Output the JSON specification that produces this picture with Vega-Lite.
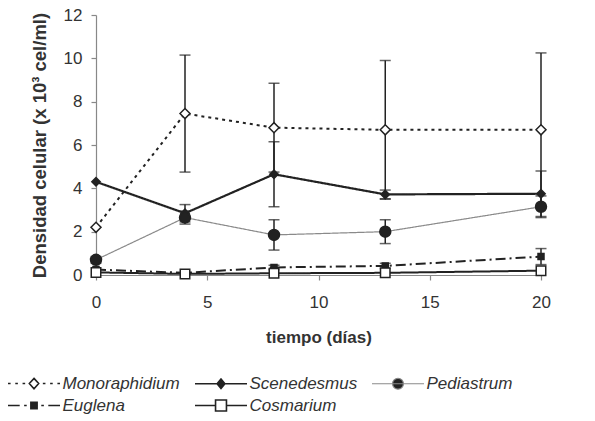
{
  "$schema": "https://vega.github.io/schema/vega-lite/v6.json",
  "autosize": "none",
  "width": 445,
  "height": 260,
  "padding": {"left": 96, "top": 15, "right": 54, "bottom": 146},
  "background": "white",
  "data": {"values": [
    {"t": 0, "species": "Monoraphidium", "value": 2.2, "err": 0},
    {"t": 4, "species": "Monoraphidium", "value": 7.45, "err": 2.7},
    {"t": 8, "species": "Monoraphidium", "value": 6.8, "err": 2.05},
    {"t": 13, "species": "Monoraphidium", "value": 6.7, "err": 3.2},
    {"t": 20, "species": "Monoraphidium", "value": 6.7, "err": 3.55},
    {"t": 0, "species": "Scenedesmus", "value": 4.3, "err": 0},
    {"t": 4, "species": "Scenedesmus", "value": 2.85, "err": 0.4},
    {"t": 8, "species": "Scenedesmus", "value": 4.65, "err": 1.5},
    {"t": 13, "species": "Scenedesmus", "value": 3.72, "err": 0.2},
    {"t": 20, "species": "Scenedesmus", "value": 3.75, "err": 1.05},
    {"t": 0, "species": "Pediastrum", "value": 0.7, "err": 0.15},
    {"t": 4, "species": "Pediastrum", "value": 2.65, "err": 0.3},
    {"t": 8, "species": "Pediastrum", "value": 1.85, "err": 0.7},
    {"t": 13, "species": "Pediastrum", "value": 2.0, "err": 0.55},
    {"t": 20, "species": "Pediastrum", "value": 3.15, "err": 0.5},
    {"t": 0, "species": "Euglena", "value": 0.25, "err": 0},
    {"t": 4, "species": "Euglena", "value": 0.1, "err": 0},
    {"t": 8, "species": "Euglena", "value": 0.35, "err": 0.1},
    {"t": 13, "species": "Euglena", "value": 0.42, "err": 0.12},
    {"t": 20, "species": "Euglena", "value": 0.85, "err": 0.37},
    {"t": 0, "species": "Cosmarium", "value": 0.12, "err": 0},
    {"t": 4, "species": "Cosmarium", "value": 0.05, "err": 0},
    {"t": 8, "species": "Cosmarium", "value": 0.08, "err": 0},
    {"t": 13, "species": "Cosmarium", "value": 0.1, "err": 0},
    {"t": 20, "species": "Cosmarium", "value": 0.2, "err": 0}
  ]},
  "encoding": {
    "x": {"field": "t", "type": "quantitative", "scale": {"domain": [0, 20], "nice": false},
      "axis": {"values": [0, 5, 10, 15, 20], "title": "tiempo (días)", "labelFlush": false, "tickSize": 5, "labelPadding": 14, "titlePadding": 19}},
    "y": {"field": "value", "type": "quantitative", "scale": {"domain": [0, 12], "nice": false},
      "axis": {"values": [0, 2, 4, 6, 8, 10, 12], "title": "Densidad celular (x 10³ cel/ml)", "tickSize": 5, "labelPadding": 9, "titlePadding": 14, "titleFontSize": 18.5}}
  },
  "layer": [
    {
      "transform": [{"filter": "datum.err > 0"}],
      "mark": {"type": "errorbar", "ticks": {"size": 11}, "thickness": 1.5, "color": "#222"},
      "encoding": {
        "yError": {"field": "err"},
        "detail": {"field": "species"}
      }
    },
    {
      "mark": {"type": "line"},
      "encoding": {
        "detail": {"field": "species", "type": "nominal"},
        "stroke": {"condition": [{"test": "datum.species==='Pediastrum'", "value": "#8a8a8a"}], "value": "#222"},
        "strokeWidth": {"condition": [{"test": "datum.species==='Pediastrum'", "value": 1.2}, {"test": "datum.species==='Scenedesmus'", "value": 2.2}], "value": 2},
        "strokeDash": {"condition": [{"test": "datum.species==='Monoraphidium'", "value": [3, 4]}, {"test": "datum.species==='Euglena'", "value": [10, 4, 2, 4]}], "value": [1, 0]}
      }
    },
    {
      "mark": {"type": "point", "filled": true, "opacity": 1, "strokeWidth": 1.5},
      "encoding": {
        "fill": {"field": "species", "type": "nominal",
          "scale": {"domain": ["Monoraphidium", "Scenedesmus", "Pediastrum", "Euglena", "Cosmarium"], "range": ["white", "#222", "#222", "#222", "white"]},
          "legend": {
            "title": null, "orient": "none", "legendX": -89, "legendY": 360, "columns": 3, "direction": "horizontal",
            "labelFont": "Liberation Sans", "labelFontStyle": "italic", "labelFontSize": 17, "labelColor": "#333",
            "symbolSize": 2704, "symbolOffset": 18.5, "labelOffset": 20, "columnPadding": 11, "rowPadding": 4, "padding": 0, "gridAlign": "each",
            "encoding": {
              "symbols": {
                "shape": {"value": {"expr": "datum.value==='Monoraphidium' ? 'M-1,0L-0.9,0M-0.72,0L-0.62,0M-0.44,0L-0.34,0M0,-0.2L0.18,0L0,0.2L-0.18,0ZM0.34,0L0.44,0M0.62,0L0.72,0M0.9,0L1,0' : datum.value==='Scenedesmus' ? 'M-1,0L1,0M0,-0.18L0.15,0L0,0.18L-0.15,0Z' : datum.value==='Pediastrum' ? 'M-1,0L1,0M0.21,0C0.21,0.116 0.116,0.21 0,0.21C-0.116,0.21 -0.21,0.116 -0.21,0C-0.21,-0.116 -0.116,-0.21 0,-0.21C0.116,-0.21 0.21,-0.116 0.21,0Z' : datum.value==='Euglena' ? 'M-1,0L-0.55,0M-0.38,0L-0.28,0M-0.12,-0.12L0.12,-0.12L0.12,0.12L-0.12,0.12ZM0.28,0L0.38,0M0.55,0L1,0' : 'M-1,0L-0.21,0M0.21,0L1,0M-0.21,-0.21L0.21,-0.21L0.21,0.21L-0.21,0.21Z'"}},
                "stroke": {"value": {"expr": "datum.value==='Pediastrum' ? '#8a8a8a' : '#222'"}},
                "strokeWidth": {"value": {"expr": "datum.value==='Pediastrum' ? 1.2 : 1.6"}},
                "size": {"value": 2704},
                "opacity": {"value": 1}
              }
            }
          }
        },
        "shape": {"condition": [{"test": "datum.species==='Pediastrum'", "value": "circle"}, {"test": "datum.species==='Euglena' || datum.species==='Cosmarium'", "value": "square"}], "value": "diamond"},
        "stroke": {"value": "#222"},
        "size": {"condition": [{"test": "datum.species==='Monoraphidium'", "value": 100}, {"test": "datum.species==='Scenedesmus'", "value": 70}, {"test": "datum.species==='Pediastrum'", "value": 120}, {"test": "datum.species==='Euglena'", "value": 36}], "value": 90}
      }
    }
  ],
  "config": {
    "view": {"stroke": null},
    "axis": {"grid": false, "domainColor": "#888", "tickColor": "#888", "domainWidth": 1.2, "tickWidth": 1.2,
      "labelColor": "#333", "titleColor": "#333", "labelFont": "Liberation Sans", "titleFont": "Liberation Sans",
      "labelFontSize": 17, "titleFontSize": 17, "titleFontWeight": "bold"}
  }
}
